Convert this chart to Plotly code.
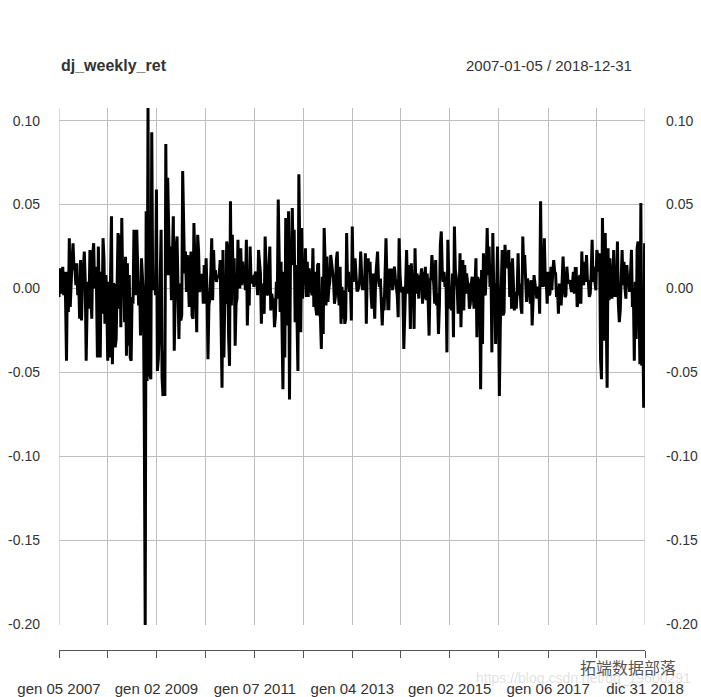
import pandas as pd
import plotly.graph_objects as go

# Weekly log returns of the Dow Jones (one list per year)
y2007 = [-0.005, 0.012, 0.001, -0.003, 0.013, -0.004, 0.010, -0.007, -0.043, 0.010, -0.014, 0.030, -0.011,
         0.012, 0.017, 0.027, 0.012, 0.012, 0.002, 0.015, -0.004, 0.005, -0.018, 0.017, -0.019, 0.002,
         0.010, 0.022, 0.005, -0.043, -0.011, 0.004, -0.012, 0.023, -0.003, -0.018, 0.020, 0.027, 0.000,
         0.013, 0.001, -0.041, 0.025, -0.015, -0.041, 0.010, -0.015, 0.030, 0.018, -0.021, 0.008, -0.008]
y2008 = [-0.043, 0.004, -0.041, 0.006, 0.043, -0.045, 0.003, 0.002, -0.035, -0.030, -0.005, 0.033, -0.012,
         0.032, -0.023, 0.042, 0.003, 0.011, -0.020, 0.019, -0.040, 0.015, -0.034, 0.008, -0.041, -0.043,
         -0.005, -0.009, 0.035, 0.003, -0.004, 0.035, 0.001, -0.010, 0.004, -0.028, 0.018, 0.004, -0.003,
         -0.076, -0.2003, 0.046, -0.055, 0.1075, -0.042, -0.051, -0.054, 0.093, -0.001, 0.007, 0.006, -0.004]
y2009 = [0.059, -0.049, -0.042, -0.025, 0.007, 0.035, -0.053, -0.064, -0.037, -0.064, 0.086, 0.008, 0.066,
         0.031, 0.008, 0.025, -0.007, 0.017, 0.043, -0.037, -0.004, 0.025, 0.031, 0.004, -0.030, 0.003,
         -0.019, -0.016, 0.070, 0.040, 0.009, 0.022, -0.002, 0.020, 0.004, -0.011, 0.017, 0.022, -0.016,
         -0.018, 0.039, 0.013, -0.002, -0.026, 0.032, 0.022, -0.002, 0.001, 0.008, 0.008, -0.009, 0.014]
y2010 = [-0.009, 0.018, -0.002, -0.042, -0.010, -0.006, 0.009, 0.030, -0.007, 0.023, 0.005, 0.011, 0.004,
         0.007, 0.007, 0.008, 0.017, -0.014, -0.059, 0.023, -0.041, -0.005, -0.009, 0.028, 0.024, -0.029,
         -0.046, 0.052, -0.010, 0.032, 0.001, 0.018, -0.034, -0.009, -0.006, 0.029, 0.001, 0.001, 0.024,
         0.002, 0.016, 0.005, 0.006, -0.001, 0.029, -0.022, 0.001, -0.010, 0.025, 0.003, 0.007, 0.007, 0.001]
y2011 = [0.008, 0.010, 0.007, -0.004, 0.023, 0.015, 0.009, -0.021, 0.003, -0.010, -0.015, 0.031, 0.013,
         -0.003, -0.004, 0.013, 0.025, -0.013, -0.003, -0.007, -0.006, -0.023, -0.016, 0.004, -0.006, 0.053,
         0.006, -0.014, 0.016, -0.043, -0.060, 0.010, -0.041, 0.042, -0.004, -0.022, 0.046, -0.066, 0.013,
         0.017, 0.048, 0.014, 0.035, -0.020, 0.014, -0.029, -0.049, 0.068, 0.014, -0.026, 0.036, -0.006]
y2012 = [0.012, 0.005, 0.024, -0.005, 0.016, -0.005, 0.012, 0.003, 0.000, -0.004, 0.024, -0.011, 0.010,
         -0.011, -0.016, 0.014, 0.015, -0.015, -0.017, -0.036, 0.007, -0.027, 0.036, 0.017, -0.010, 0.019,
         -0.008, 0.000, 0.004, 0.020, 0.016, 0.009, 0.005, -0.009, -0.005, 0.017, 0.022, -0.001, -0.010,
         0.013, -0.021, 0.001, -0.018, -0.001, -0.021, -0.018, 0.033, 0.001, 0.010, -0.002, 0.004, -0.019]
y2013 = [0.037, 0.004, 0.012, 0.018, 0.008, -0.001, -0.001, 0.001, 0.006, 0.022, 0.008, -0.001, 0.006,
         -0.001, 0.021, -0.021, 0.011, 0.018, 0.010, 0.016, -0.003, -0.012, 0.009, -0.012, -0.018, 0.007,
         0.015, 0.022, 0.005, 0.001, 0.006, -0.015, -0.022, -0.005, -0.013, 0.008, 0.030, 0.005, -0.012,
         -0.012, 0.011, 0.011, 0.011, -0.001, 0.009, 0.013, 0.006, 0.001, -0.004, -0.017, 0.030, 0.008]
y2014 = [-0.001, -0.002, 0.001, -0.036, -0.011, 0.006, 0.023, -0.003, 0.014, 0.008, -0.024, 0.015, 0.001,
         0.006, -0.024, 0.024, -0.003, 0.009, 0.004, -0.006, 0.007, 0.007, 0.012, -0.009, 0.010, -0.006,
         0.013, -0.007, 0.009, -0.008, -0.028, 0.004, 0.007, 0.020, 0.006, 0.002, -0.009, 0.017, -0.010,
         -0.003, -0.027, -0.010, 0.026, 0.034, 0.011, 0.004, 0.010, 0.001, 0.007, -0.038, 0.029, 0.014]
y2015 = [-0.012, -0.005, -0.013, 0.009, -0.029, 0.037, 0.011, 0.007, 0.000, -0.015, -0.006, 0.021, -0.023,
         0.003, 0.017, -0.013, 0.014, -0.003, 0.009, 0.004, 0.002, -0.012, -0.009, 0.003, 0.007, -0.004,
         -0.012, 0.002, 0.018, -0.029, 0.007, -0.018, 0.006, -0.060, 0.011, -0.033, 0.021, -0.003, -0.004,
         0.010, 0.036, 0.008, 0.025, 0.001, 0.014, -0.038, 0.033, -0.001, 0.003, -0.033, -0.008, 0.025]
y2016 = [-0.007, -0.064, -0.022, 0.007, 0.023, -0.016, -0.014, 0.026, 0.015, 0.022, 0.012, 0.023, -0.005,
         0.016, -0.012, 0.018, 0.006, -0.013, -0.002, -0.012, -0.002, 0.021, -0.004, 0.003, -0.011, -0.015,
         0.031, 0.011, 0.020, 0.003, -0.008, 0.006, 0.002, -0.001, -0.009, 0.005, -0.022, 0.002, 0.008,
         0.003, -0.004, -0.006, 0.000, 0.001, -0.015, 0.052, 0.001, 0.015, 0.001, 0.030, 0.004, 0.005, -0.009]
y2017 = [0.010, -0.004, -0.003, 0.013, -0.001, 0.010, 0.017, 0.010, 0.009, -0.005, 0.001, -0.015, 0.003,
         0.000, -0.010, 0.005, 0.019, 0.003, -0.005, -0.004, 0.013, 0.006, 0.003, 0.005, 0.001, -0.002,
         0.003, 0.010, -0.003, 0.012, 0.012, -0.011, -0.008, 0.006, 0.008, -0.009, 0.022, 0.004, 0.002,
         0.016, 0.004, 0.020, 0.005, 0.004, -0.005, -0.003, 0.009, 0.029, 0.004, 0.013, 0.004, -0.001]
y2018 = [0.023, 0.020, 0.010, 0.021, -0.042, -0.054, 0.042, 0.004, -0.031, 0.033, -0.015, -0.059, 0.024,
         -0.007, 0.018, 0.004, -0.006, -0.002, 0.023, -0.005, 0.002, -0.005, 0.028, -0.009, -0.020, -0.013,
         0.008, 0.023, 0.002, 0.016, 0.001, -0.006, 0.014, 0.005, 0.007, -0.002, 0.009, 0.023, -0.011,
         0.000, -0.043, 0.004, -0.030, 0.024, 0.028, -0.022, -0.045, 0.051, -0.046, -0.012, -0.071, 0.027, 0.012]

years = list(range(2007, 2019))
yearly = [y2007, y2008, y2009, y2010, y2011, y2012, y2013, y2014, y2015, y2016, y2017, y2018]

tick_dates = ["2007-01-05", "2008-01-04", "2009-01-02", "2010-01-01", "2011-01-07", "2012-01-06",
              "2013-01-04", "2014-01-03", "2015-01-02", "2016-01-01", "2017-01-06", "2018-01-05",
              "2018-12-31"]
tick_labels = ["gen 05 2007", "", "gen 02 2009", "", "gen 07 2011", "", "gen 04 2013", "",
               "gen 02 2015", "", "gen 06 2017", "", "dic 31 2018"]
y_ticks = [-0.20, -0.15, -0.10, -0.05, 0.00, 0.05, 0.10]
y_ticktext = ["-0.20", "-0.15", "-0.10", "-0.05", "0.00", "0.05", "0.10"]

dates, values = [], []
for yr, vals in zip(years, yearly):
    d = list(pd.date_range(f"{yr}-01-01", f"{yr}-12-31", freq="W-FRI"))
    if yr == 2018:
        d.append(pd.Timestamp("2018-12-31"))
    assert len(d) == len(vals), (yr, len(d), len(vals))
    dates += d
    values += vals

ymin, ymax = min(values), max(values)
FONT = "Liberation Sans, Arial, sans-serif"
GRID = "#BEBEBE"

fig = go.Figure()
fig.add_trace(go.Scatter(x=dates, y=values, mode="lines",
                         line=dict(color="black", width=3), hoverinfo="skip", showlegend=False))
fig.add_trace(go.Scatter(x=[dates[0], dates[-1]], y=[None, None], xaxis="x2", yaxis="y",
                         mode="lines", showlegend=False, hoverinfo="skip"))
fig.add_trace(go.Scatter(x=[dates[0], dates[-1]], y=[None, None], xaxis="x", yaxis="y2",
                         mode="lines", showlegend=False, hoverinfo="skip"))

# gridlines at both ends of the time range (Plotly skips grid lines on the plot edges)
for d in (tick_dates[0], tick_dates[-1]):
    fig.add_shape(type="line", xref="x", yref="y domain", x0=d, x1=d, y0=0, y1=1,
                  line=dict(color=GRID, width=1), layer="below")

H_PLOT = 697 - 108 - 47
fig.update_layout(
    width=701, height=697,
    margin=dict(l=59, r=56, t=108, b=47, autoexpand=False),
    paper_bgcolor="white", plot_bgcolor="white",
    font=dict(family=FONT, color="#333333"),
    xaxis=dict(type="date", range=[dates[0], dates[-1]], tickvals=tick_dates,
               showticklabels=False, showgrid=True, gridcolor=GRID, gridwidth=1,
               zeroline=False, showline=False, ticks="", automargin=False),
    xaxis2=dict(type="date", overlaying="x", anchor="free", position=0,
                range=[dates[0], dates[-1]], tickvals=tick_dates, ticktext=tick_labels,
                showgrid=False, zeroline=False, showline=True, linecolor="#555555", linewidth=1,
                ticks="outside", ticklen=7, tickcolor="#555555", tickwidth=1,
                tickfont=dict(size=15, color="#333333"), ticklabelstandoff=18, automargin=False),
    yaxis=dict(domain=[25 / H_PLOT, 1], range=[ymin, ymax], tickvals=y_ticks, ticktext=y_ticktext,
               showgrid=True, gridcolor=GRID, gridwidth=1, zeroline=False, showline=False,
               ticks="", tickfont=dict(size=14, color="#333333"), ticklabelstandoff=18,
               automargin=False),
    yaxis2=dict(overlaying="y", side="right", anchor="x", range=[ymin, ymax],
                tickvals=y_ticks, ticktext=y_ticktext, showgrid=False, zeroline=False,
                showline=False, ticks="", tickfont=dict(size=14, color="#333333"),
                ticklabelstandoff=20, automargin=False),
    annotations=[
        dict(text="<b>dj_weekly_ret</b>", xref="paper", yref="paper", x=0, y=(650 - 66) / H_PLOT,
             xanchor="left", yanchor="middle", showarrow=False,
             font=dict(size=16, color="#333333", family=FONT)),
        dict(text="2007-01-05 / 2018-12-31", xref="paper", yref="paper", x=(634 - 59) / 586,
             y=(650 - 66) / H_PLOT, xanchor="right", yanchor="middle", showarrow=False,
             font=dict(size=15, color="#333333", family=FONT)),
        dict(text="https://blog.csdn.net/qq_19600291", xref="paper", yref="paper",
             x=(693 - 59) / 586, y=(650 - 678) / H_PLOT, xanchor="right", yanchor="middle",
             showarrow=False, font=dict(size=14, color="rgba(200,200,200,0.55)", family=FONT)),
        dict(text="拓端数据部落", xref="paper", yref="paper", x=(628 - 59) / 586,
             y=(650 - 667) / H_PLOT, xanchor="center", yanchor="middle", showarrow=False,
             font=dict(size=16, color="#555555", family="Noto Sans CJK SC")),
    ],
)

fig.write_html("out.html", config={"displayModeBar": False},
               post_script="document.body.style.margin='0';")
